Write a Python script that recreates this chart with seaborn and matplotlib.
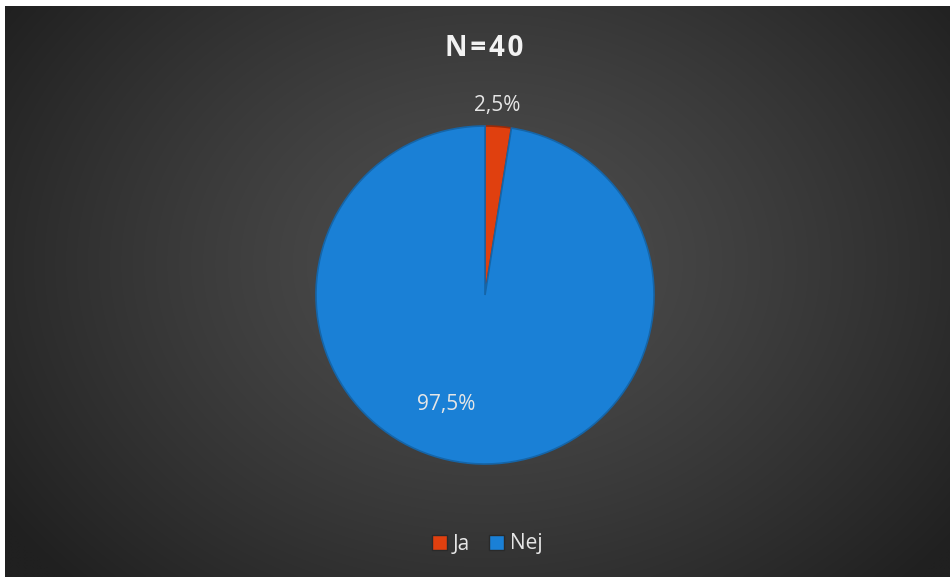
import numpy as np
import matplotlib
matplotlib.use("Agg")
import matplotlib.pyplot as plt
import seaborn as sns
from matplotlib.patches import Rectangle

sns.set_style("white")
plt.rcParams["font.family"] = ["Open Sans", "DejaVu Sans"]

categories = ["Ja", "Nej"]
values = [2.5, 97.5]
value_labels = ["2,5%", "97,5%"]
colors = ["#e0400f", "#1a80d6"]
title = "N=40"

W, H = 950, 577
fig = plt.figure(figsize=(W / 100, H / 100), dpi=100)
fig.patch.set_facecolor("white")

# Dark radial gradient background panel
bg = fig.add_axes([5 / W, 0, 1 - 5 / W, 1 - 6 / H])
bg.set_axis_off()
ny, nx = 300, 500
yy, xx = np.mgrid[0:ny, 0:nx]
cx, cy = nx * 0.51, ny * 0.45
r = np.sqrt(((xx - cx) / (nx * 0.62)) ** 2 + ((yy - cy) / (ny * 0.80)) ** 2)
r = np.clip(r, 0, 1)
inner, outer = np.array([0x4e, 0x4e, 0x4e]) / 255, np.array([0x20, 0x20, 0x20]) / 255
img = inner[None, None, :] * (1 - r[..., None] ** 1.3) + outer[None, None, :] * (r[..., None] ** 1.3)
bg.imshow(img, aspect="auto", extent=[0, 1, 0, 1], interpolation="bilinear")

# Pie axes: centred at (485, 295) px with radius ~169 px
R = 169
ax = fig.add_axes([(485 - R) / W, 1 - (295 + R) / H, 2 * R / W, 2 * R / H])
ax.set_axis_off()
wedges, _ = ax.pie(
    values,
    colors=colors,
    startangle=90,
    counterclock=False,
    radius=1.0,
    wedgeprops=dict(edgecolor="#1565a8", linewidth=1.2),
)
wedges[0].set_edgecolor("#9c2a08")
ax.set_xlim(-1, 1)
ax.set_ylim(-1, 1)
ax.set_aspect("equal")

# Value labels
ax.text(0.07, 1.12, value_labels[0], ha="center", va="center", fontsize=15, color="#e6e6e6")
ax.text(-0.23, -0.65, value_labels[1], ha="center", va="center", fontsize=15, color="#e6e6e6")

# Title, letter-spaced
spaced_title = "\u200a".join(title)
fig.text(484 / W, 1 - 48 / H, spaced_title, ha="center", va="center", fontsize=20,
         fontweight="bold", color="#f2f2f2")

# Legend
handles = [Rectangle((0, 0), 1, 1, facecolor=c, edgecolor="#2a2a2a") for c in colors]
leg = fig.legend(handles, categories, loc="center", bbox_to_anchor=(487 / W, 1 - 544 / H),
                 ncol=2, frameon=False, fontsize=15, handlelength=0.75, handleheight=0.75,
                 handletextpad=0.25, columnspacing=0.9)
for t in leg.get_texts():
    t.set_color("#e6e6e6")

fig.savefig("out.png", dpi=100, facecolor=fig.get_facecolor())
